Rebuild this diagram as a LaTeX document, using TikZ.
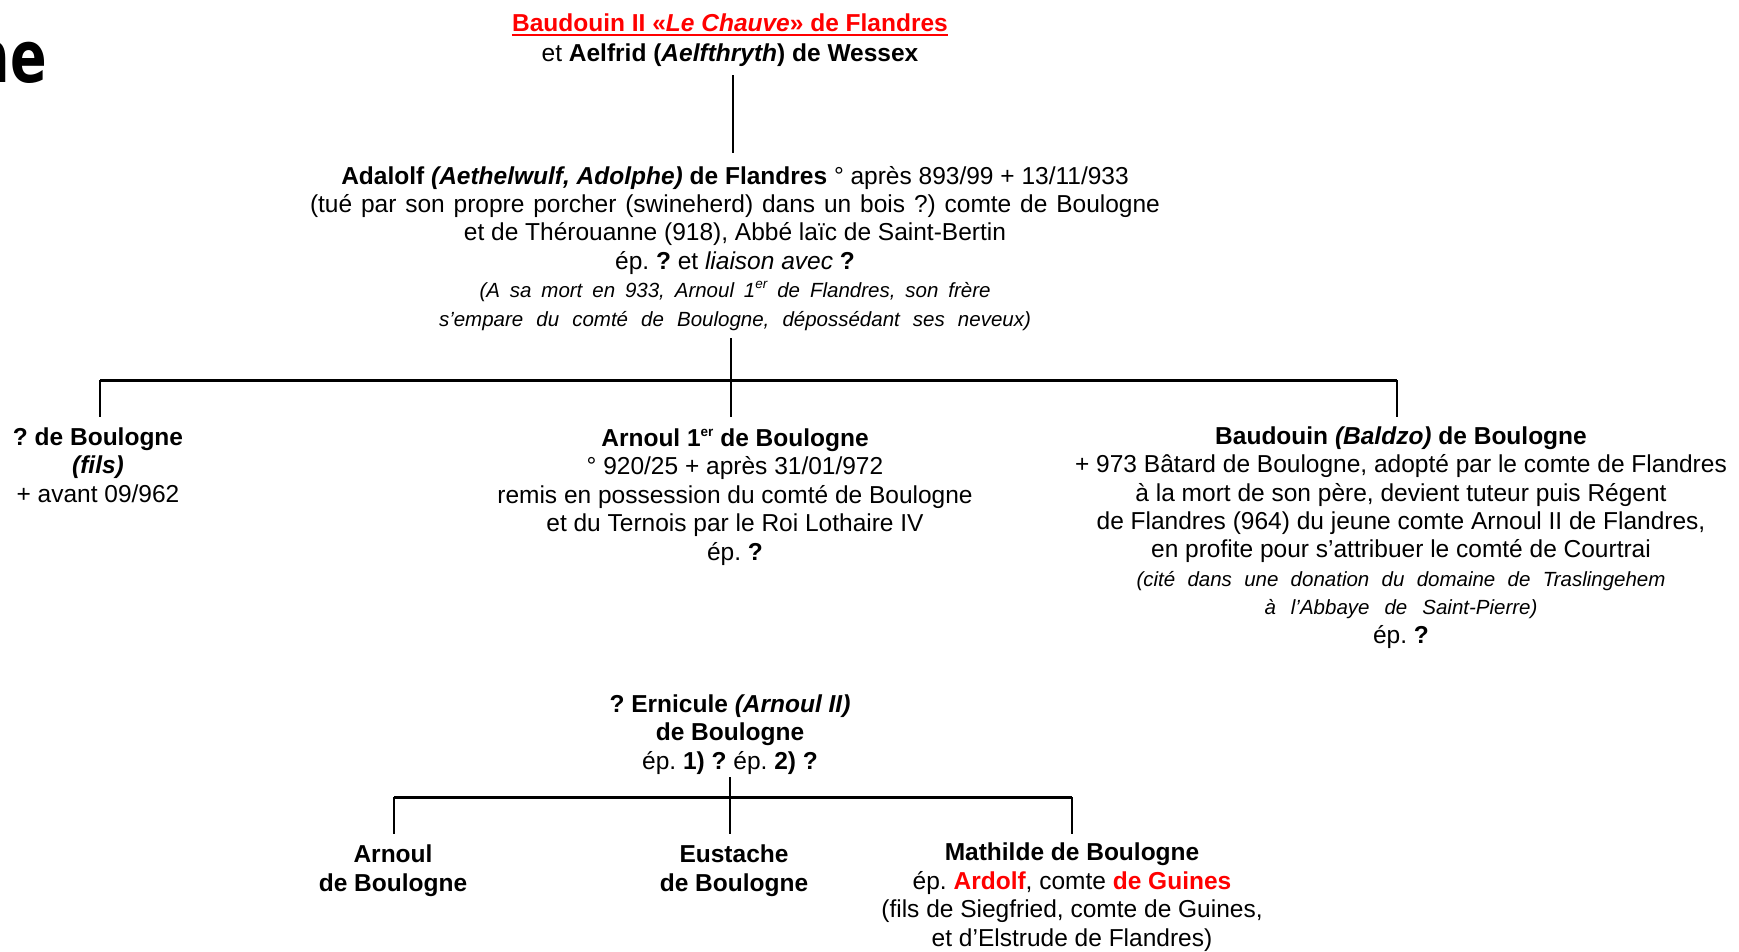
\documentclass[tikz,border=0pt]{standalone}
\usepackage{fontspec}
\usepackage{graphicx}
\setmainfont{Liberation Sans}
\newfontfamily\titlefont{DejaVu Sans}
\frenchspacing
\newcommand{\bodyfnt}{\fontsize{24.5}{28.4}\selectfont}
\newcommand{\smallit}{\fontsize{20.5}{28.4}\selectfont\itshape}
\newcommand{\ersup}{\raisebox{0.42em}{\fontsize{13.5}{13.5}\selectfont er}}
\begin{document}
\begin{tikzpicture}[x=1pt,y=-1pt,
  txt/.style={align=center, inner sep=0pt, anchor=base, font=\bodyfnt},
  vline/.style={line width=2.2pt},
  hline/.style={line width=3pt}]
\useasboundingbox (0,0) rectangle (1739,951);
% title fragment
\node[anchor=base east, inner sep=0pt, font=\titlefont\bfseries\fontsize{72}{80}\selectfont] (title) at (47,82) {\scalebox{0.75}[1]{ne}};
% ancestors
\node[txt, text=red, font=\bodyfnt\bfseries] (top) at (730,31) {Baudouin II «\textit{Le Chauve}» de Flandres};
\draw[red, line width=2.2pt] ([yshift=-4pt]top.base west) -- ([yshift=-4pt]top.base east);
\node[txt] (wife) at (730,61) {et \textbf{Aelfrid (\textit{Aelfthryth}) de Wessex}};
% Adalolf (base = last line)
\node[txt] (adalolf) at (735,326) {\textbf{Adalolf \textit{(Aethelwulf, Adolphe)} de Flandres} ° après 893/99 + 13/11/933\\
\makebox[850pt][s]{(tué par son propre porcher (swineherd) dans un bois ?) comte de Boulogne}\\
et de Thérouanne (918), Abbé laïc de Saint-Bertin\\
ép. \textbf{?} et \textit{liaison avec} \textbf{?}\\
{\smallit\makebox[511pt][s]{(A sa mort en 933, Arnoul 1\ersup{} de Flandres, son frère}}\\
{\smallit\makebox[592pt][s]{s’empare du comté de Boulogne, dépossédant ses neveux)}}};
% children of Adalolf
\node[txt] (fils) at (98,502) {\textbf{? de Boulogne}\\ \textbf{\textit{(fils)}}\\ + avant 09/962};
\node[txt] (arnoul1) at (735,560) {\textbf{Arnoul 1\ersup{} de Boulogne}\\
° 920/25 + après 31/01/972\\
remis en possession du comté de Boulogne\\
et du Ternois par le Roi Lothaire IV\\
ép. \textbf{?}};
\node[txt] (baudouin) at (1401,643) {\textbf{Baudouin \textit{(Baldzo)} de Boulogne}\\
+ 973 Bâtard de Boulogne, adopté par le comte de Flandres\\
à la mort de son père, devient tuteur puis Régent\\
de Flandres (964) du jeune comte Arnoul II de Flandres,\\
en profite pour s’attribuer le comté de Courtrai\\
{\smallit\makebox[529pt][s]{(cité dans une donation du domaine de Traslingehem}}\\
{\smallit\makebox[273pt][s]{à l’Abbaye de Saint-Pierre)}}\\
ép. \textbf{?}};
% Ernicule
\node[txt] (ernicule) at (730,769) {\textbf{? Ernicule \textit{(Arnoul II)}}\\ \textbf{de Boulogne}\\ ép. \textbf{1) ?} ép. \textbf{2) ?}};
% grandchildren
\node[txt] (arnoul) at (393,891) {\textbf{Arnoul}\\ \textbf{de Boulogne}};
\node[txt] (eustache) at (734,891) {\textbf{Eustache}\\ \textbf{de Boulogne}};
\node[txt] (mathilde) at (1072,946) {\textbf{Mathilde de Boulogne}\\
ép. \textbf{\textcolor{red}{Ardolf}}, comte \textbf{\textcolor{red}{de Guines}}\\
(fils de Siegfried, comte de Guines,\\
et d’Elstrude de Flandres)};
% connector points
\coordinate (a1) at (733,75);
\coordinate (a2) at (733,153);
\coordinate (b1) at (731,338);
\coordinate (bL) at (100,380);
\coordinate (bM) at (731,380);
\coordinate (bR) at (1397,380);
\coordinate (cL) at (100,417);
\coordinate (cM) at (731,417);
\coordinate (cR) at (1397,417);
\coordinate (d1) at (730,777);
\coordinate (dL) at (394,797);
\coordinate (dM) at (730,797);
\coordinate (dR) at (1072,797);
\coordinate (eL) at (394,834);
\coordinate (eM) at (730,834);
\coordinate (eR) at (1072,834);
% connectors
\draw[vline] (a1) -- (a2);
\draw[vline] (b1) -- (cM);
\draw[hline] (bL) -- (bR);
\draw[vline] (bL) -- (cL);
\draw[vline] (bR) -- (cR);
\draw[vline] (d1) -- (eM);
\draw[hline] (dL) -- (dR);
\draw[vline] (dL) -- (eL);
\draw[vline] (dR) -- (eR);
\end{tikzpicture}
\end{document}
